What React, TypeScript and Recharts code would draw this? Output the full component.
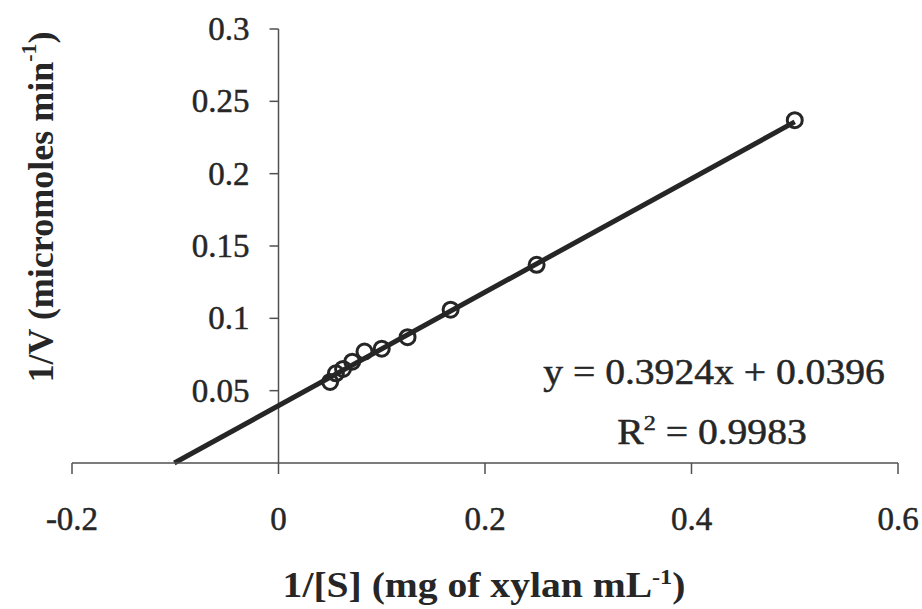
import {
  ScatterChart,
  Scatter,
  XAxis,
  YAxis,
  ReferenceLine,
  Customized,
} from "recharts";

// Lineweaver-Burk data: 1/[S] vs 1/V
const invSubstrate = [0.5, 0.25, 0.1667, 0.125, 0.1, 0.0833, 0.0714, 0.0625, 0.0556, 0.05];
const invVelocity = [0.237, 0.137, 0.106, 0.087, 0.079, 0.077, 0.07, 0.065, 0.062, 0.056];

const xTicks = [-0.2, 0, 0.2, 0.4, 0.6];
const yTicks = [0.05, 0.1, 0.15, 0.2, 0.25, 0.3];

// linear trendline y = slope * x + intercept
const slope = 0.3924;
const intercept = 0.0396;
const rSquared = 0.9983;
const fitEnd = 0.5;
const fitStart = -intercept / slope; // where the trendline meets the x axis

const INK = "#262626";
const AXIS = "#505050";
const FONT = "'Liberation Serif', 'Times New Roman', serif";

const points = invSubstrate.map((x, i) => ({ x, y: invVelocity[i] }));
const yAxisTicks = yTicks.map((v) => ({ x: 0, y: v }));

const OpenCircle = (props: any) => {
  const { cx, cy } = props;
  return <circle cx={cx} cy={cy} r={7.5} fill="none" stroke={INK} strokeWidth={3} />;
};

// y axis sits on x = 0, so its ticks are drawn at (0, v) through the chart scales
const YTick = (props: any) => {
  const { cx, cy, payload } = props;
  return (
    <g>
      <line x1={cx - 9} y1={cy} x2={cx} y2={cy} stroke={AXIS} strokeWidth={1.5} />
      <text
        x={cx - 29}
        y={cy}
        textAnchor="end"
        dominantBaseline="central"
        fontFamily={FONT}
        fontSize={33}
        fill={INK}
        stroke={INK}
        strokeWidth={0.5}
      >
        {String(payload.y)}
      </text>
    </g>
  );
};

const Titles = () => (
  <g fontFamily={FONT} fill={INK}>
    <text
      transform="translate(41,207) rotate(-90)"
      textAnchor="middle"
      dominantBaseline="central"
      fontSize={36}
      fontWeight="bold"
    >
      1/V (micromoles min
      <tspan dy={-13} fontSize={22}>-1</tspan>
      <tspan dy={13}>)</tspan>
    </text>
    <text
      transform="translate(484,597) scale(1.1,1)"
      textAnchor="middle"
      fontSize={36}
      fontWeight="bold"
    >
      1/[S] (mg of xylan mL
      <tspan dy={-13} fontSize={22}>-1</tspan>
      <tspan dy={13}>)</tspan>
    </text>
    <g stroke={INK} strokeWidth={0.5}>
      <text transform="translate(714,384) scale(1.1,1)" textAnchor="middle" fontSize={36}>
        {`y = ${slope}x + ${intercept}`}
      </text>
      <text transform="translate(712,444) scale(1.1,1)" textAnchor="middle" fontSize={36}>
        R<tspan dy={-14} fontSize={22}>2</tspan>
        <tspan dy={14}>{` = ${rSquared}`}</tspan>
      </text>
    </g>
  </g>
);

export default function App() {
  return (
    <div
      style={{
        position: "absolute",
        left: 0,
        top: 0,
        width: 922,
        height: 609,
        background: "#fff",
      }}
    >
      <ScatterChart
        width={922}
        height={609}
        margin={{ top: 29, right: 24, left: 72, bottom: 46 }}
      >
        <XAxis
          type="number"
          dataKey="x"
          domain={[-0.2, 0.6]}
          ticks={xTicks}
          height={100}
          tickSize={11}
          tickMargin={33}
          axisLine={{ stroke: AXIS, strokeWidth: 1.5 }}
          tickLine={{ stroke: AXIS, strokeWidth: 1.5 }}
          tick={{ fontFamily: FONT, fontSize: 33, fill: INK, stroke: INK, strokeWidth: 0.5 }}
        />
        <YAxis type="number" dataKey="y" domain={[0, 0.3]} hide />

        {/* vertical axis crossing at x = 0 */}
        <ReferenceLine
          segment={[
            { x: 0, y: 0 },
            { x: 0, y: 0.3 },
          ]}
          stroke={AXIS}
          strokeWidth={1.5}
        />

        {/* trendline */}
        <ReferenceLine
          segment={[
            { x: fitStart, y: 0 },
            { x: fitEnd, y: slope * fitEnd + intercept },
          ]}
          stroke={INK}
          strokeWidth={5}
        />

        <Scatter data={yAxisTicks} shape={<YTick />} isAnimationActive={false} />
        <Scatter data={points} shape={<OpenCircle />} isAnimationActive={false} />

        <Customized component={<Titles />} />
      </ScatterChart>
    </div>
  );
}
